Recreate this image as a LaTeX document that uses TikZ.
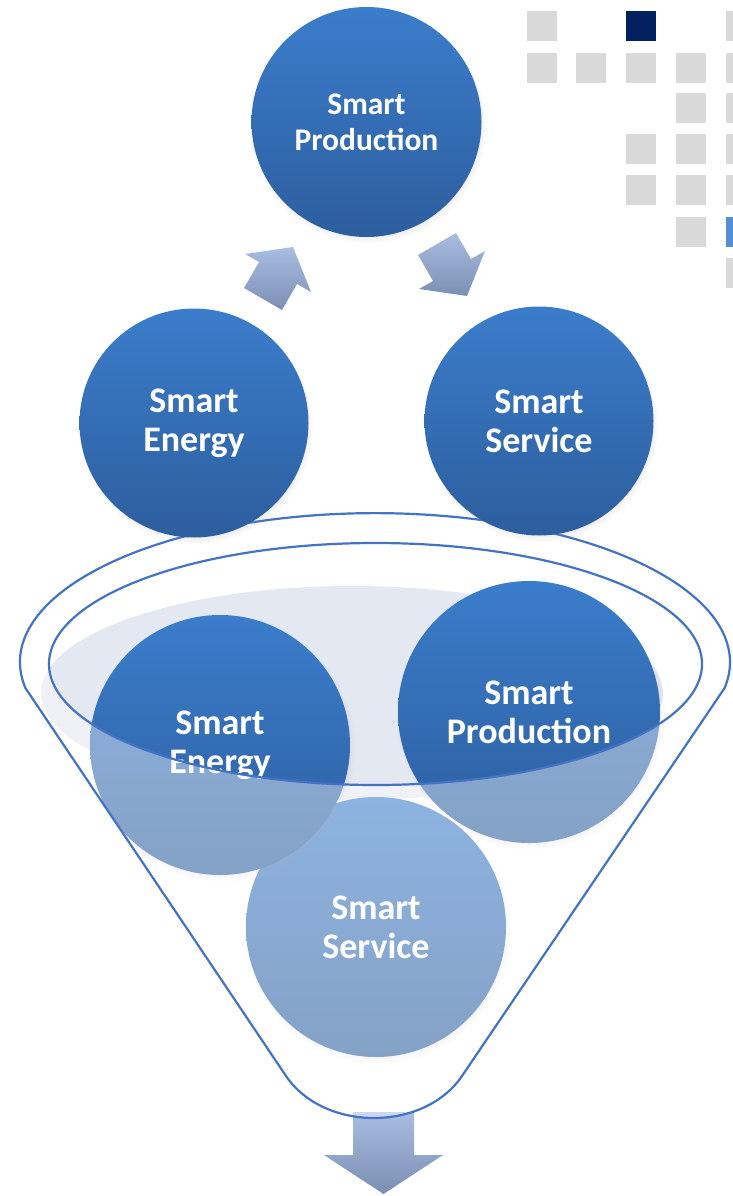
\documentclass[tikz,border=0pt]{standalone}
\usepackage{fontspec}
\setmainfont{Carlito}
\usetikzlibrary{shadows,fadings}
\definecolor{cTop}{HTML}{3B7DCB}
\definecolor{cBot}{HTML}{2D5E9E}
\definecolor{aTop}{HTML}{A9BDE2}
\definecolor{aBot}{HTML}{7B8FB3}
\definecolor{sqGray}{HTML}{D9D9D9}
\definecolor{sqNavy}{HTML}{002060}
\definecolor{sqBlue}{HTML}{558ED5}
\definecolor{liquid}{HTML}{E4E8F1}
\definecolor{funnelLine}{HTML}{4472C4}
\tikzset{
  ball/.style={circle, minimum size=#1, inner sep=0pt, top color=cTop, bottom color=cBot,
    draw=none, text=white, align=center,
    font=\bfseries\fontsize{36}{39}\selectfont,
    circular drop shadow={shadow xshift=1.5pt, shadow yshift=-3pt, shadow scale=1.03, opacity=0.3}},
  smallball/.style={ball=#1, font=\bfseries\fontsize{31.5}{36}\selectfont},
  blockarrow/.style={top color=aTop, bottom color=aBot},
  sq/.style={fill=sqGray},
  funnel/.style={draw=funnelLine, line width=2.2pt, line join=round},
}
\begin{document}
\begin{tikzpicture}[x=1pt,y=-1pt]
\useasboundingbox (0,0) rectangle (733,1196);
% decorative squares
\begin{scope}
\clip (0,0) rectangle (733,1196);
\foreach \px/\py in {527/11, 726/11,
  527/53, 576/53, 626/53, 676/53, 726/53,
  676/93, 726/93,
  626/134, 676/134, 726/134,
  626/175, 676/175, 726/175,
  676/217, 726/258}
  \fill[sq] (\px,\py) rectangle ++(30,30);
\fill[sqNavy] (626,11) rectangle ++(30,30);
\fill[sqBlue] (726,217) rectangle ++(30,30);
\end{scope}
% liquid
\fill[liquid] (352,693) ellipse [x radius=311pt, y radius=107pt];
% bottom circles
\node[ball=260pt] (svc2) at (376,927) {Smart\\Service};
\node[ball=260pt] (eng2) at (220,745) {Smart\\Energy};
\node[ball=262pt] (prd2) at (529,712) {Smart\\Production};
% down arrow
\shade[blockarrow] (353,1112) -- (414,1112) -- (414,1155) -- (443,1155) -- (383.5,1194)
  -- (324,1155) -- (353,1155) -- cycle;
% funnel front overlay
\fill[white, fill opacity=0.42, even odd rule]
  (25.4,688) arc[start angle=190, end angle=-10, x radius=355pt, y radius=149pt]
  -- (462,1076) .. controls (424,1132) and (324,1132) .. (286,1076) -- cycle
  (375.5,664) ellipse [x radius=326.5pt, y radius=121pt];
% funnel outlines
\draw[funnel]
  (25.4,688) arc[start angle=190, end angle=-10, x radius=355pt, y radius=149pt]
  -- (462,1076) .. controls (424,1132) and (324,1132) .. (286,1076) -- cycle;
\draw[funnel] (375.5,664) ellipse [x radius=326.5pt, y radius=121pt];
% top cycle
\node[smallball=230pt] (prd1) at (366.5,122) {Smart\\Production};
\node[ball=229pt] (eng1) at (194,423) {Smart\\Energy};
\node[ball=229pt] (svc1) at (539,421) {Smart\\Service};
\shade[blockarrow] (244,288) -- (282,310) -- (297,284) -- (311,292) -- (293,247)
  -- (245,254) -- (259,262) -- cycle;
\shade[blockarrow] (456,233) -- (418,255) -- (433,281) -- (419,289) -- (467,296)
  -- (485,251) -- (471,259) -- cycle;
\end{tikzpicture}
\end{document}
